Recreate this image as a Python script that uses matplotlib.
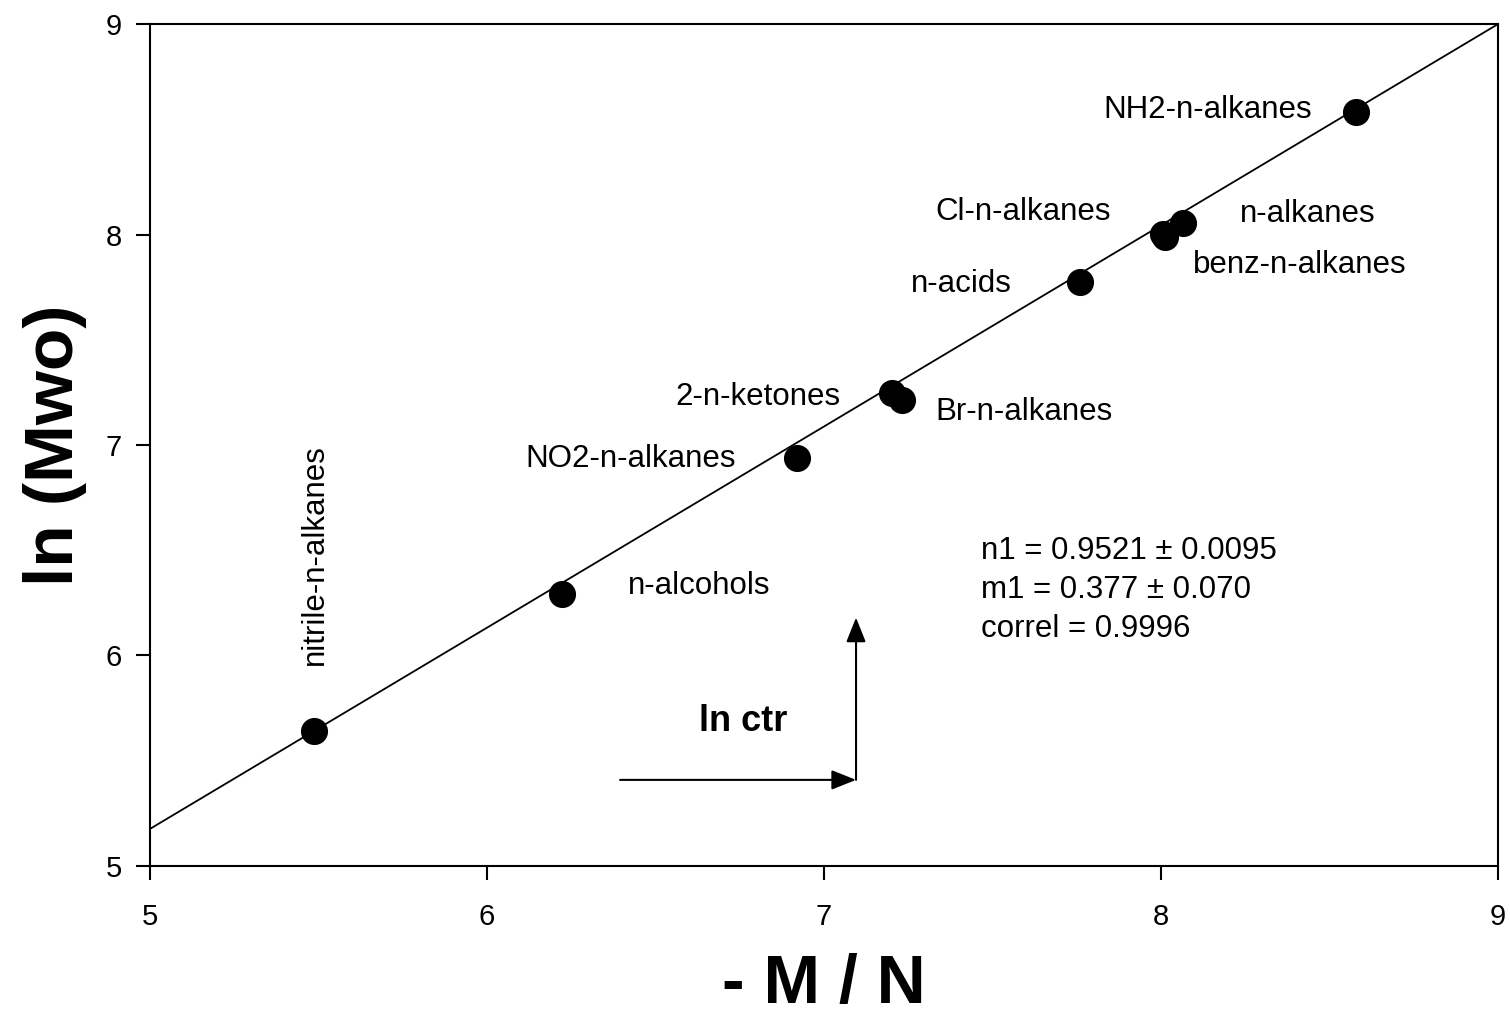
"""ln(Mwo) versus -M/N for homologous series, with linear fit."""

import matplotlib

matplotlib.use("Agg")
import matplotlib.pyplot as plt

plt.rcParams["font.family"] = ["Liberation Sans", "DejaVu Sans"]

# data
series = ["nitrile-n-alkanes", "n-alcohols", "NO2-n-alkanes", "2-n-ketones", "Br-n-alkanes",
          "n-acids", "Cl-n-alkanes", "benz-n-alkanes", "n-alkanes", "NH2-n-alkanes"]
mn = [5.487, 6.223, 6.920, 7.202, 7.231, 7.760, 8.006, 8.012, 8.065, 8.579]
ln_mwo = [5.641, 6.292, 6.938, 7.247, 7.214, 7.774, 8.002, 7.990, 8.055, 8.582]

fit_x = [5.0, 9.0]
fit_y = [5.176, 9.0]

# label anchors (left edge, vertical centre)
label_x = [5.49, 6.418, 6.113, 6.558, 7.329, 7.258, 7.329, 8.095, 8.234, 7.828]
label_y = [5.955, 6.33, 6.935, 7.228, 7.156, 7.764, 8.106, 7.855, 8.097, 8.591]

stats = "n1 = 0.9521 \u00b1 0.0095\nm1 = 0.377 \u00b1 0.070\ncorrel = 0.9996"

fig = plt.figure(figsize=(15.1, 10.23), dpi=100)
ax = fig.add_axes([0.0993, 0.1535, 0.8928, 0.823])

ax.plot(fit_x, fit_y, color="black", lw=1.3, zorder=2)
ax.plot(mn, ln_mwo, "o", color="black", markersize=18.5, zorder=3)

for name, lx, ly in zip(series, label_x, label_y):
    if name == "nitrile-n-alkanes":
        ax.text(lx, ly, name, rotation=90, ha="center", va="bottom", fontsize=22.5)
    else:
        ax.text(lx, ly, name, ha="left", va="center", fontsize=22.5)

ax.text(7.466, 6.31, stats, ha="left", va="center", fontsize=22.5, linespacing=1.38)

# ln ctr construction
arrow = dict(arrowstyle="-|>,head_length=0.75,head_width=0.3", color="black", lw=1.5,
             shrinkA=0, shrinkB=0, mutation_scale=20)
ax.annotate("", xy=(7.095, 5.409), xytext=(6.395, 5.409), arrowprops=arrow)
ax.annotate("", xy=(7.095, 6.18), xytext=(7.095, 5.409), arrowprops=arrow)
ax.text(6.76, 5.684, "ln ctr", ha="center", va="center", fontsize=26, fontweight="bold")

ax.set_xlim(5, 9)
ax.set_ylim(5, 9)
ax.set_xticks([5, 6, 7, 8, 9])
ax.set_yticks([5, 6, 7, 8, 9])
ax.tick_params(direction="out", length=10, width=1.5, labelsize=21, top=False, right=False)
ax.tick_params(axis="x", pad=17)
ax.tick_params(axis="y", pad=10)
for sp in ax.spines.values():
    sp.set_linewidth(1.5)

ax.set_xlabel("- M / N", fontsize=49, fontweight="bold", va="center")
ax.xaxis.set_label_coords(0.5, -0.141)
ax.set_ylabel("ln (Mwo)", fontsize=50, fontweight="bold", va="center")
ax.yaxis.set_label_coords(-0.0705, 0.5)

fig.savefig("out.png", dpi=100)
